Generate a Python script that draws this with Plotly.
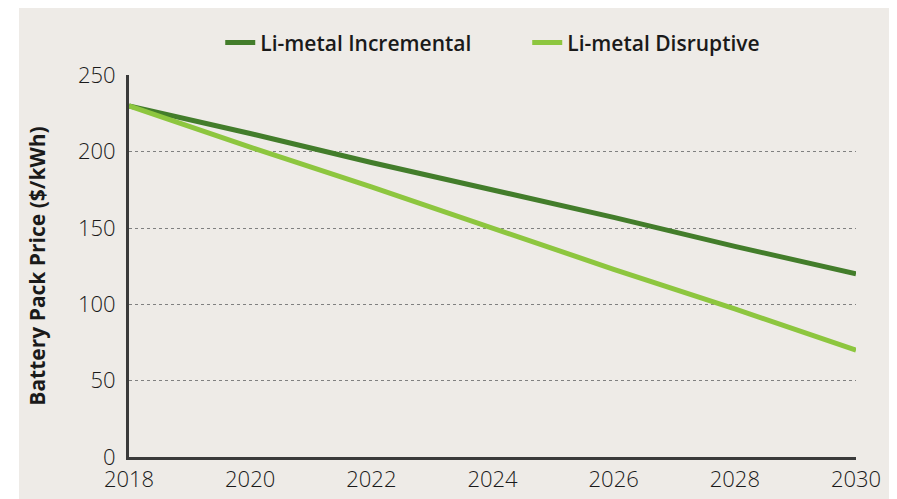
import plotly.graph_objects as go

years = [2018, 2020, 2022, 2024, 2026, 2028, 2030]
incremental = [230, 212, 193, 175, 157, 138, 120]
disruptive = [230, 203, 177, 150, 123, 97, 70]

x_ticks = [2018, 2020, 2022, 2024, 2026, 2028, 2030]
y_ticks = [0, 50, 100, 150, 200, 250]

bg = "#EEEBE7"
text_color = "#1a1a1a"
axis_color = "#3a3a3a"
font_family = "Open Sans, sans-serif"

fig = go.Figure()
fig.add_trace(go.Scatter(x=years, y=incremental, mode="lines", name="Li-metal Incremental",
                         line=dict(color="#437D2B", width=5)))
fig.add_trace(go.Scatter(x=years, y=disruptive, mode="lines", name="Li-metal Disruptive",
                         line=dict(color="#8DC63F", width=5)))

# thin white strip down the left side
fig.add_shape(type="rect", xref="paper", yref="paper", x0=-0.3, x1=-0.1513, y0=-0.2, y1=1.3,
              fillcolor="white", line=dict(width=0), layer="below")

fig.update_layout(
    width=889, height=491,
    paper_bgcolor=bg,
    plot_bgcolor="rgba(0,0,0,0)",
    margin=dict(l=121, r=41, t=67, b=42, autoexpand=False),
    font=dict(family=font_family, color=text_color, size=18),
    showlegend=True,
    legend=dict(orientation="h", x=0.1255, xanchor="left", yref="container", y=0.929,
                yanchor="middle", font=dict(size=21, weight=600), bgcolor="rgba(0,0,0,0)",
                traceorder="normal", entrywidth=262, entrywidthmode="pixels"),
    xaxis=dict(range=[2018, 2030], tickvals=x_ticks, showgrid=False, zeroline=False,
               showline=True, linecolor=axis_color, linewidth=3,
               tickfont=dict(size=22, weight=300), ticks="", ticklabelstandoff=1),
    yaxis=dict(range=[0, 250.3], tickvals=y_ticks, showgrid=True, gridcolor="#808080",
               griddash="dot", gridwidth=1, zeroline=False,
               showline=True, linecolor=axis_color, linewidth=3,
               tickfont=dict(size=22, weight=300), ticks="", ticklabelstandoff=6,
               title=dict(text="Battery Pack Price ($/kWh)", font=dict(size=21, weight=700),
                          standoff=27)),
)

fig.write_html("out.html")
